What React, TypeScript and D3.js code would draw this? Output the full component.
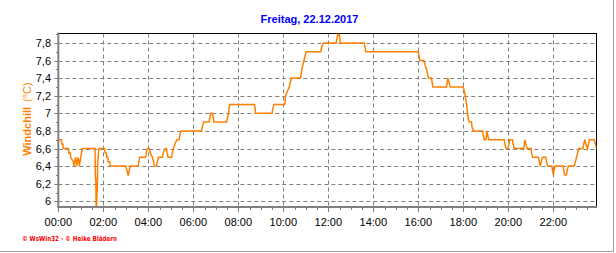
import React from "react";
import * as d3 from "d3";

const TITLE = "Freitag, 22.12.2017";
const Y_LABEL = "Windchill";
const Y_UNIT = "(°C)";
const FOOTER = "© WsWin32 - © Heike Blädern";

const xTickLabels = ["00:00", "02:00", "04:00", "06:00", "08:00", "10:00", "12:00", "14:00", "16:00", "18:00", "20:00", "22:00"];
const yTickValues = [6.0, 6.2, 6.4, 6.6, 6.8, 7.0, 7.2, 7.4, 7.6, 7.8];

const times = [
  "00:00", "00:08", "00:09", "00:12", "00:13", "00:27", "00:28", "00:32", "00:33", "00:40",
  "00:42", "00:44", "00:46", "00:48", "00:49", "00:51", "00:53", "00:55", "00:56", "00:58",
  "01:00", "01:02", "01:04", "01:38", "01:39", "01:40", "01:41", "01:42", "01:43", "01:44",
  "01:45", "01:47", "01:48", "02:03", "02:05", "02:08", "02:09", "02:12", "02:13", "02:17",
  "02:18", "03:00", "03:03", "03:06", "03:07", "03:09", "03:12", "03:33", "03:35", "03:37",
  "03:53", "03:55", "03:57", "04:03", "04:05", "04:11", "04:14", "04:16", "04:22", "04:24",
  "04:27", "04:38", "04:40", "04:45", "04:48", "04:50", "04:53", "05:02", "05:04", "05:07",
  "05:11", "05:16", "05:22", "05:24", "05:27", "06:22", "06:24", "06:28", "06:42", "06:44",
  "06:47", "06:51", "06:53", "06:55", "07:29", "07:31", "07:34", "07:35", "07:37", "08:43",
  "08:45", "08:46", "09:30", "09:32", "09:35", "10:04", "10:06", "10:11", "10:16", "10:18",
  "10:22", "10:46", "10:48", "10:50", "10:55", "11:01", "11:40", "11:42", "11:47", "12:21",
  "12:23", "12:26", "12:29", "12:31", "12:32", "13:36", "13:38", "13:40", "16:00", "16:02",
  "16:04", "16:15", "16:18", "16:22", "16:27", "16:35", "16:37", "16:39", "17:15", "17:17",
  "17:19", "17:22", "17:25", "18:00", "18:03", "18:05", "18:09", "18:11", "18:13", "18:16",
  "18:22", "18:23", "18:27", "18:52", "18:53", "18:56", "19:00", "19:02", "19:03", "19:05",
  "19:08", "19:49", "19:51", "19:54", "19:59", "20:02", "20:04", "20:11", "20:13", "20:16",
  "20:41", "20:43", "20:44", "20:47", "20:50", "21:01", "21:02", "21:05", "21:20", "21:23",
  "21:25", "21:28", "21:31", "21:40", "21:42", "21:45", "21:56", "21:58", "22:00", "22:02",
  "22:05", "22:26", "22:28", "22:30", "22:35", "22:37", "22:40", "22:56", "22:59", "23:02",
  "23:05", "23:08", "23:19", "23:21", "23:24", "23:27", "23:31", "23:34", "23:36", "23:49",
  "23:52", "23:56"
];

const values = [
  6.7, 6.7, 6.65, 6.65, 6.6, 6.6, 6.55, 6.55, 6.5, 6.45,
  6.4, 6.45, 6.5, 6.45, 6.4, 6.45, 6.5, 6.45, 6.4, 6.45,
  6.5, 6.55, 6.6, 6.6, 6.26, 6.26, 5.9, 5.9, 6.11, 6.11,
  6.43, 6.55, 6.6, 6.6, 6.55, 6.55, 6.5, 6.5, 6.45, 6.45,
  6.4, 6.4, 6.35, 6.3, 6.3, 6.35, 6.4, 6.4, 6.45, 6.5,
  6.5, 6.55, 6.6, 6.6, 6.55, 6.5, 6.45, 6.4, 6.4, 6.45,
  6.5, 6.5, 6.55, 6.6, 6.6, 6.55, 6.5, 6.5, 6.55, 6.6,
  6.65, 6.7, 6.7, 6.75, 6.8, 6.8, 6.85, 6.9, 6.9, 6.95,
  7.0, 7.0, 6.95, 6.9, 6.9, 6.95, 7.0, 7.05, 7.1, 7.1,
  7.05, 7.0, 7.0, 7.05, 7.1, 7.1, 7.2, 7.25, 7.3, 7.34,
  7.4, 7.4, 7.46, 7.51, 7.6, 7.7, 7.7, 7.75, 7.8, 7.8,
  7.85, 7.9, 7.9, 7.85, 7.8, 7.8, 7.75, 7.7, 7.7, 7.65,
  7.6, 7.6, 7.55, 7.5, 7.4, 7.4, 7.35, 7.3, 7.3, 7.35,
  7.4, 7.35, 7.3, 7.3, 7.25, 7.2, 7.1, 7.0, 6.94, 6.9,
  6.9, 6.85, 6.8, 6.8, 6.75, 6.7, 6.7, 6.75, 6.8, 6.75,
  6.7, 6.7, 6.65, 6.6, 6.6, 6.65, 6.7, 6.7, 6.65, 6.6,
  6.6, 6.65, 6.7, 6.65, 6.6, 6.6, 6.55, 6.5, 6.5, 6.45,
  6.4, 6.45, 6.5, 6.5, 6.45, 6.4, 6.4, 6.35, 6.3, 6.35,
  6.4, 6.4, 6.35, 6.3, 6.3, 6.35, 6.4, 6.4, 6.45, 6.5,
  6.55, 6.6, 6.6, 6.65, 6.7, 6.65, 6.6, 6.65, 6.7, 6.7,
  6.65, 6.6
];

const toMin = (s: string) => {
  const [h, m] = s.split(":").map(Number);
  return h * 60 + m;
};

export default function App() {
  const W = 616, H = 253;
  const left = 58.3, right = 596.5, top = 33.5, bottom = 207;
  const x = d3.scaleLinear().domain([0, 24 * 60]).range([58.3, 598.3]);
  const y = d3.scaleLinear().domain([6.0, 7.8]).range([201.3, 42.9]);

  const data = times.map((t, i) => ({ t: toMin(t), v: values[i] }));
  const line = d3.line<{ t: number; v: number }>().x(d => x(d.t)).y(d => y(d.v));

  const majorX = d3.range(0, 24 * 60, 120);
  const minorX = d3.range(0, 24 * 60, 30).filter(m => m % 120 !== 0);
  const minorY = d3.range(0, 20).map(i => 6.0 + i * 0.1).filter(v => y(v) > top);

  const grid = "#808080";
  const orange = "#ff8000";
  const font = "'Liberation Sans', Arial, sans-serif";

  return (
    <svg width={W} height={H} style={{ position: "absolute", left: 0, top: 0, background: "#fff" }}>
      <defs>
        <clipPath id="plot">
          <rect x={left} y={top} width={right - left} height={bottom - top} />
        </clipPath>
      </defs>
      {/* outer frame */}
      <line x1={613.5} y1={0} x2={613.5} y2={252} stroke="#a0a0a0" />
      <line x1={0} y1={251.5} x2={614} y2={251.5} stroke="#a0a0a0" />

      <text x={309.5} y={23} textAnchor="middle" fontFamily={font} fontWeight="bold" fontSize={11} fill="#0000ff">{TITLE}</text>

      {/* grid */}
      {yTickValues.map(v => (
        <line key={"gy" + v} x1={left} x2={right} y1={Math.round(y(v)) + 0.5} y2={Math.round(y(v)) + 0.5} stroke={grid} strokeDasharray="4,3" />
      ))}
      {majorX.filter(m => m > 0).map(m => (
        <line key={"gx" + m} x1={Math.round(x(m)) + 0.5} x2={Math.round(x(m)) + 0.5} y1={top} y2={bottom} stroke={grid} strokeDasharray="4,3" />
      ))}

      {/* frame top/right */}
      <line x1={left} x2={right + 0.5} y1={top} y2={top} stroke="#000" />
      <line x1={right} x2={right} y1={top} y2={bottom} stroke="#000" />

      {/* data line */}
      <path d={line(data) || ""} fill="none" stroke={orange} strokeWidth={1.5} clipPath="url(#plot)" />

      {/* axes */}
      <line x1={left} x2={left} y1={top - 1} y2={bottom + 1} stroke={grid} strokeWidth={2} />
      <line x1={left - 1} x2={right + 0.5} y1={bottom} y2={bottom} stroke={grid} strokeWidth={2} />
      {majorX.map(m => (
        <line key={"tx" + m} x1={Math.round(x(m)) + 0.5} x2={Math.round(x(m)) + 0.5} y1={bottom} y2={bottom + 5} stroke={grid} />
      ))}
      {minorX.map(m => (
        <line key={"mx" + m} x1={Math.round(x(m)) + 0.5} x2={Math.round(x(m)) + 0.5} y1={bottom} y2={bottom + 3} stroke={grid} />
      ))}
      {minorY.map(v => (
        <line key={"ty" + v} x1={left - (Math.abs((v * 10) % 2) < 0.01 || Math.abs((v * 10) % 2 - 2) < 0.01 ? 4 : 2.5)} x2={left} y1={Math.round(y(v)) + 0.5} y2={Math.round(y(v)) + 0.5} stroke={grid} />
      ))}

      {/* tick labels */}
      {xTickLabels.map((lab, i) => (
        <text key={lab} x={x(majorX[i])} y={226} textAnchor="middle" fontFamily={font} fontSize={11} fill="#000">{lab}</text>
      ))}
      {yTickValues.map(v => (
        <text key={"yl" + v} x={51} y={y(v) + 4} textAnchor="end" fontFamily={font} fontSize={11} fill="#000">
          {d3.format(".1f")(v).replace(/\.0$/, "").replace(".", ",")}
        </text>
      ))}

      {/* y label */}
      <text transform="translate(30.7,119) rotate(-90)" textAnchor="middle" fontFamily={font} fontSize={11} fill={orange}>
        <tspan fontWeight="bold">{Y_LABEL}</tspan>
        <tspan dx={5}>{Y_UNIT}</tspan>
      </text>

      <text x={22} y={241} fontFamily="'DejaVu Sans', sans-serif" fontWeight="bold" fontSize={7} fill="#ff0000" textLength={95} lengthAdjust="spacingAndGlyphs">{FOOTER}</text>
    </svg>
  );
}
